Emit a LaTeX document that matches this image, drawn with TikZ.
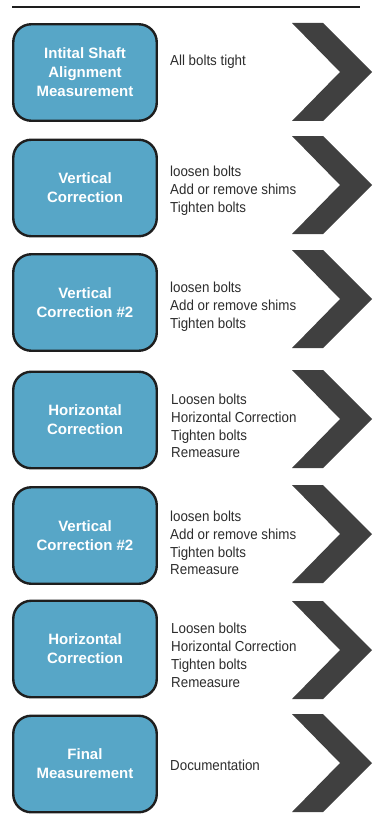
\documentclass[tikz,border=0pt]{standalone}
\usepackage{fontspec}
\setmainfont{Liberation Sans}
\newfontfamily\sidefont[FakeStretch=0.92]{Liberation Sans}
\definecolor{boxblue}{RGB}{87,166,199}
\definecolor{chev}{RGB}{64,64,64}
\definecolor{txt}{RGB}{45,45,45}
\definecolor{rule}{RGB}{30,30,30}
\begin{document}
\begin{tikzpicture}[x=1pt,y=-1pt,
  stepbox/.style={draw=rule, line width=2.4pt, fill=boxblue, rounded corners=18pt,
    minimum width=143.5pt, minimum height=96.5pt, align=center, text=white,
    font=\fontsize{15}{19}\selectfont\bfseries, inner sep=0pt},
  note/.style={anchor=west, align=left, text=txt,
    font=\sidefont\fontsize{14.5}{17.8}\selectfont, inner sep=0pt},
  chevron/.style={fill=chev}]
\useasboundingbox (0,0) rectangle (375,832);
\fill[white] (0,0) rectangle (375,832);
\coordinate (ruleL) at (12,7);
\coordinate (ruleR) at (360,7);
\draw[rule, line width=2.6pt] (ruleL) -- (ruleR);
% chevrons
\foreach \c in {72,185,299,419,534,650,763}{
  \fill[chevron] (292,\c-49) -- (323,\c-49) -- (372,\c) -- (323,\c+49) -- (292,\c+49) -- (340,\c) -- cycle;
}
% boxes
\node[stepbox] (b1) at (85,72.5) {Intital Shaft\\Alignment\\Measurement};
\node[stepbox] (b2) at (85,188) {Vertical\\Correction};
\node[stepbox] (b3) at (85,302.5) {Vertical\\Correction \#2};
\node[stepbox] (b4) at (85,420) {Horizontal\\Correction};
\node[stepbox] (b5) at (85,535.5) {Vertical\\Correction \#2};
\node[stepbox] (b6) at (85,649) {Horizontal\\Correction};
\node[stepbox] (b7) at (85,764) {Final\\Measurement};
% notes
\node[note] (n1) at (170,62) {All bolts tight};
\node[note] (n2) at (170,191) {loosen bolts\\Add or remove shims\\Tighten bolts};
\node[note] (n3) at (170,307) {loosen bolts\\Add or remove shims\\Tighten bolts};
\node[note] (n4) at (171,426) {Loosen bolts\\Horizontal Correction\\Tighten bolts\\Remeasure};
\node[note] (n5) at (170,543) {loosen bolts\\Add or remove shims\\Tighten bolts\\Remeasure};
\node[note] (n6) at (171,655.5) {Loosen bolts\\Horizontal Correction\\Tighten bolts\\Remeasure};
\node[note] (n7) at (170,765) {Documentation};
\end{tikzpicture}
\end{document}
